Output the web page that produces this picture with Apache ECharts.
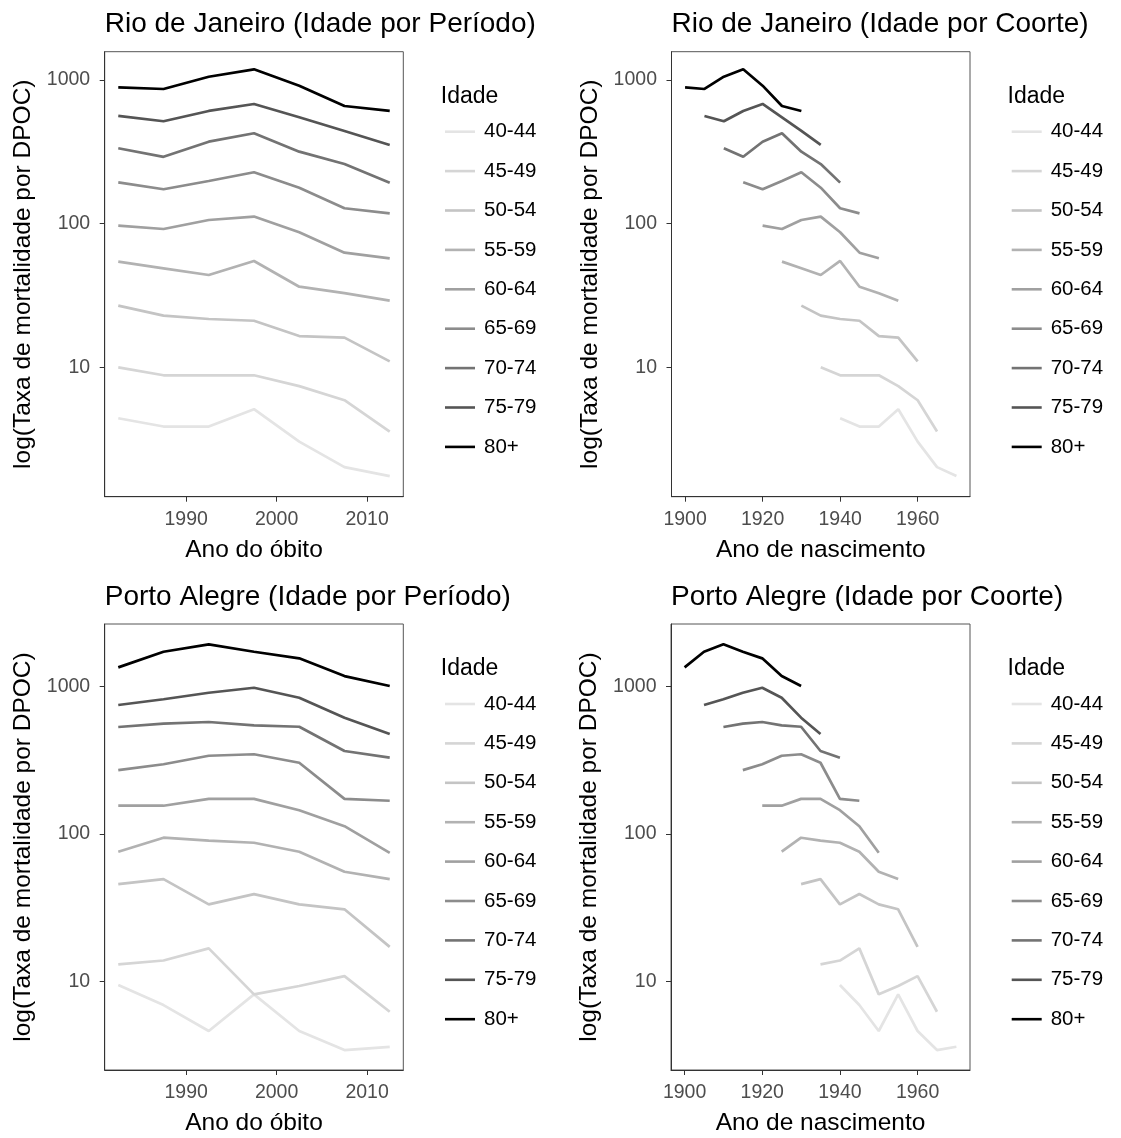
<!DOCTYPE html>
<html>
<head>
<meta charset="utf-8">
<script src="https://cdn.jsdelivr.net/npm/echarts@6/dist/echarts.min.js"></script>
<style>
html,body{margin:0;padding:0;background:#ffffff;}
#chart{width:1121px;height:1138px;}
</style>
</head>
<body>
<div id="chart"></div>
<script>
// ---------- DATA ----------
const ageGroups = ['40-44','45-49','50-54','55-59','60-64','65-69','70-74','75-79','80+'];
const ageMidOffset = [42.5,47.5,52.5,57.5,62.5,67.5,72.5,77.5,82.5];
const periods = [1982.5,1987.5,1992.5,1997.5,2002.5,2007.5,2012.5];

// Rio de Janeiro: mortality rate by age group and period
const rio_40_44 = [4.42, 3.87, 3.87, 5.11, 3.04, 2.02, 1.75];
const rio_45_49 = [10.0, 8.8, 8.8, 8.8, 7.4, 5.9, 3.57];
const rio_50_54 = [26.9, 22.9, 21.7, 21.1, 16.5, 16.1, 11.0];
const rio_55_59 = [54.4, 48.9, 43.9, 55.0, 36.4, 32.8, 29.1];
const rio_60_64 = [96.8, 91.8, 106, 112, 87.1, 62.8, 57.4];
const rio_65_69 = [194, 173.5, 198, 228, 178, 128, 118];
const rio_70_74 = [335, 292, 372, 426, 317, 260, 193];
const rio_75_79 = [562, 516, 609, 681, 550, 442, 353];
const rio_80_plus = [889, 866, 1054, 1187, 913, 659, 609];

// Porto Alegre: mortality rate by age group and period
const poa_40_44 = [9.48, 6.94, 4.63, 8.2, 4.63, 3.44, 3.62];
const poa_45_49 = [13.1, 13.9, 16.8, 8.2, 9.34, 10.9, 6.25];
const poa_50_54 = [45.8, 49.5, 33.4, 39.2, 33.4, 30.9, 17.2];
const poa_55_59 = [75.9, 94.4, 90.1, 87.3, 75.9, 55.5, 49.5];
const poa_60_64 = [155.5, 155.5, 173, 173, 145, 113, 74.6];
const poa_65_69 = [271, 297, 339, 347, 304, 173, 168];
const poa_70_74 = [531, 559, 574, 545, 533, 365, 329];
const poa_75_79 = [748, 818, 906, 979, 838, 614, 476];
const poa_80_plus = [1346, 1718, 1928, 1718, 1549, 1175, 1006];

const yTicks = [10, 100, 1000];
const periodTicks = [1990, 2000, 2010];
const cohortTicks = [1900, 1920, 1940, 1960];

const panelTitles = [
  'Rio de Janeiro (Idade por Período)',
  'Rio de Janeiro (Idade por Coorte)',
  'Porto Alegre (Idade por Período)',
  'Porto Alegre (Idade por Coorte)'
];

// ---------- STYLE / LAYOUT ----------
const rioSeries = [rio_40_44, rio_45_49, rio_50_54, rio_55_59, rio_60_64, rio_65_69, rio_70_74, rio_75_79, rio_80_plus];
const poaSeries = [poa_40_44, poa_45_49, poa_50_54, poa_55_59, poa_60_64, poa_65_69, poa_70_74, poa_75_79, poa_80_plus];
const colors = ['#E4E4E4','#D5D5D5','#C4C4C4','#B2B2B2','#A0A0A0','#8C8C8C','#737373','#555555','#000000'];
const FONT = '"Liberation Sans", Arial, sans-serif';

const grids = [
  {left: 104.7, top: 51.7, width: 298.6, height: 445},
  {left: 671.5, top: 51.7, width: 298.5, height: 445},
  {left: 104.7, top: 624, width: 298.6, height: 446},
  {left: 671, top: 624, width: 299, height: 446}
];
const yRanges = [[1.257, 1574], [1.257, 1574], [2.52, 2647], [2.52, 2647]];
const xRanges = [[1981, 2014], [1896.5, 1973.5], [1981, 2014], [1896.5, 1973.5]];
const xTickSets = [periodTicks, cohortTicks, periodTicks, cohortTicks];
const xNames = ['Ano do óbito', 'Ano de nascimento', 'Ano do óbito', 'Ano de nascimento'];

const option = {
  animation: false,
  backgroundColor: '#ffffff',
  textStyle: {fontFamily: FONT},
  title: [],
  legend: [],
  grid: grids.map(g => Object.assign({show: true, borderColor: '#555555', borderWidth: 1, backgroundColor: 'transparent'}, g)),
  xAxis: [],
  yAxis: [],
  series: []
};

grids.forEach((g, i) => {
  option.title.push({
    text: panelTitles[i], left: g.left, top: g.top - 43.2, padding: 0,
    textStyle: {fontFamily: FONT, fontSize: 28, fontWeight: 'normal', color: '#000', lineHeight: 32}
  });
  option.title.push({
    text: 'Idade', left: g.left + g.width + 37.5, top: g.top + 32, padding: 0,
    textStyle: {fontFamily: FONT, fontSize: 23, fontWeight: 'normal', color: '#000', lineHeight: 26}
  });
  option.legend.push({
    data: ageGroups.slice(),
    orient: 'vertical',
    left: g.left + g.width + 41.7,
    top: g.top + 69,
    padding: 0,
    icon: 'rect',
    itemWidth: 30,
    itemHeight: 2.6,
    itemGap: 17.4,
    selectedMode: false,
    textStyle: {fontFamily: FONT, fontSize: 20.5, color: '#000', lineHeight: 22, padding: [0, 0, 0, 4]}
  });
  option.xAxis.push({
    type: 'value', gridIndex: i,
    min: xRanges[i][0], max: xRanges[i][1],
    name: xNames[i], nameLocation: 'middle', nameGap: 40.3,
    nameTextStyle: {fontFamily: FONT, fontSize: 24.5, color: '#000', lineHeight: 26},
    axisLine: {show: true, onZero: false, lineStyle: {color: '#333333', width: 1}},
    axisTick: {show: true, length: 5, lineStyle: {color: '#333333'}, customValues: xTickSets[i]},
    axisLabel: {show: true, margin: 13, fontFamily: FONT, fontSize: 19.5, color: '#4D4D4D', lineHeight: 20,
      customValues: xTickSets[i], formatter: v => String(Math.round(v))},
    splitLine: {show: false}
  });
  option.yAxis.push({
    type: 'log', logBase: 10, gridIndex: i,
    min: yRanges[i][0], max: yRanges[i][1],
    name: 'log(Taxa de mortalidade por DPOC)', nameLocation: 'middle', nameGap: 68.4, nameRotate: 90,
    nameTextStyle: {fontFamily: FONT, fontSize: 24.5, color: '#000', lineHeight: 26},
    axisLine: {show: true, lineStyle: {color: '#333333', width: 1}},
    axisTick: {show: true, length: 5, lineStyle: {color: '#333333'}, customValues: yTicks},
    axisLabel: {show: true, margin: 14.5, fontFamily: FONT, fontSize: 19.5, color: '#4D4D4D',
      customValues: yTicks, formatter: v => String(Math.round(v))},
    splitLine: {show: false},
    minorTick: {show: false}
  });
  const cityData = (i < 2) ? rioSeries : poaSeries;
  const isCohort = (i % 2 === 1);
  ageGroups.forEach((name, k) => {
    const vals = cityData[k];
    option.series.push({
      type: 'line', name: name,
      xAxisIndex: i, yAxisIndex: i,
      data: periods.map((p, j) => [isCohort ? p - ageMidOffset[k] : p, vals[j]]),
      symbol: 'none', showSymbol: false,
      color: colors[k],
      lineStyle: {color: colors[k], width: 2.7},
      z: 2 + k,
      silent: true
    });
  });
});

const chart = echarts.init(document.getElementById('chart'), null, {renderer: 'canvas'});
chart.setOption(option);
</script>
</body>
</html>
